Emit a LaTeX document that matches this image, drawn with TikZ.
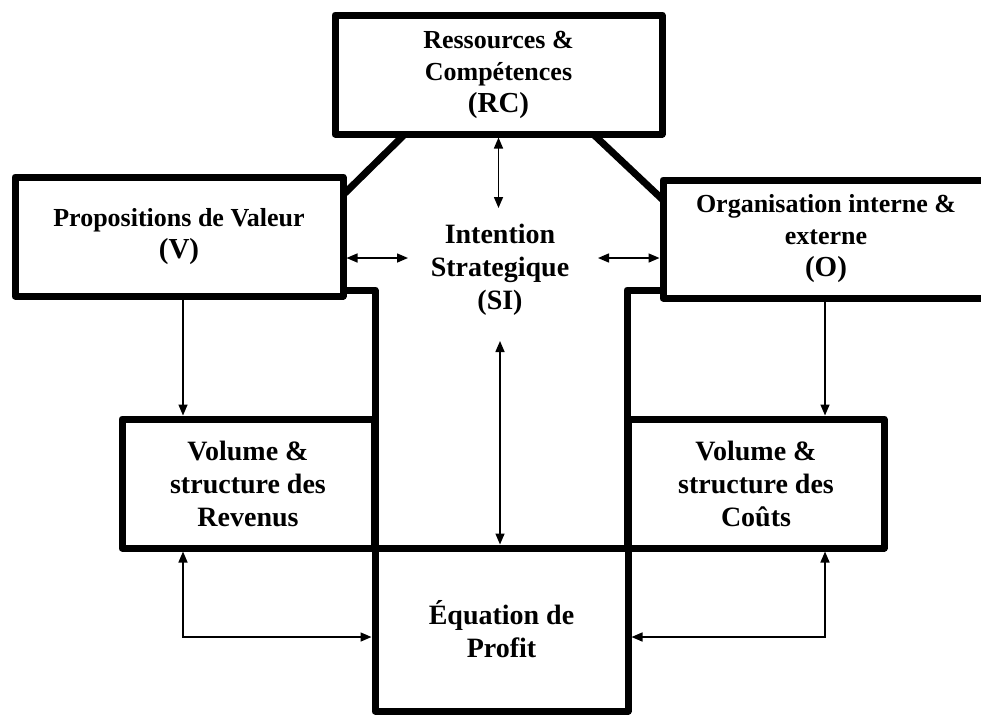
\documentclass[tikz,border=0pt]{standalone}
\usepackage{fontspec}
\setmainfont{Liberation Serif}
\usetikzlibrary{arrows.meta}
\tikzset{
  box/.style={draw, line width=7pt, line join=round, rectangle, inner sep=0pt, align=center,
    font=\bfseries\fontsize{26}{32}\selectfont},
  wall/.style={line width=7pt, line join=round},
  tip/.tip={Triangle[length=11pt,width=9pt]},
  arr/.style={line width=1.5pt, tip-tip},
  arrone/.style={line width=1.5pt, -tip},
  big/.style={font=\bfseries\fontsize{28}{33}\selectfont},
}
\newcommand{\paren}[1]{{\fontsize{29}{34}\selectfont #1}}
\begin{document}
\begin{tikzpicture}[x=1pt,y=-1pt]
\useasboundingbox (0,0) rectangle (981,718);
% boxes
\node[box, minimum width=327pt, minimum height=119pt] (RC) at (498.5,74.5)
  {Ressources \&\\Compétences\\\paren{(RC)}};
\node[box, minimum width=328pt, minimum height=119pt] (V) at (179,236.5)
  {Propositions de Valeur\\\paren{(V)}};
\node[box, minimum width=326pt, minimum height=118pt] (O) at (826,239)
  {Organisation interne \&\\externe\\\paren{(O)}};
\node[box, big, minimum width=252pt, minimum height=129pt] (Rev) at (248,483.5)
  {Volume \&\\structure des\\Revenus};
\node[box, big, minimum width=256pt, minimum height=129pt] (Cout) at (756,483.5)
  {Volume \&\\structure des\\Coûts};
\node[box, big, minimum width=253pt, minimum height=163pt] (Profit) at (501.5,629.5)
  {Équation de\\Profit};
\node[big, align=center, inner sep=0pt] (SI) at (500,270)
  {Intention\\Strategique\\(SI)};
% walls of the central column
\coordinate (dl1) at (405,134);
\coordinate (dl2) at (343,195);
\coordinate (dr1) at (593,134);
\coordinate (dr2) at (663,200);
\draw[wall] (dl1) -- (dl2);
\draw[wall] (dr1) -- (dr2);
\coordinate (stepL) at (343,290);
\coordinate (stepR) at (663,290);
\coordinate (colL) at (375,290);
\coordinate (colR) at (627,290);
\draw[wall] (stepL) -- (colL) -- (colL |- Profit.north west);
\draw[wall] (stepR) -- (colR) -- (colR |- Profit.north east);
% connectors
\coordinate (rcTip) at (498.5,208);
\draw[arr] (RC.south) -- (rcTip);
\coordinate (siL) at (408,258);
\coordinate (siR) at (598,258);
\draw[arr] (V.east |- siL) -- (siL);
\draw[arr] (siR) -- (O.west |- siR);
\coordinate (siTop) at (500,341);
\draw[arr] (siTop) -- (siTop |- Profit.north);
\coordinate (xL) at (183,0);
\coordinate (xR) at (825,0);
\draw[arrone] (V.south -| xL) -- (Rev.north -| xL);
\draw[arrone] (O.south -| xR) -- (Cout.north -| xR);
\coordinate (lowL) at (183,637);
\coordinate (lowR) at (825,637);
\draw[arr] (Rev.south -| lowL) -- (lowL) -- (Profit.west |- lowL);
\draw[arr] (Cout.south -| lowR) -- (lowR) -- (Profit.east |- lowR);
\end{tikzpicture}
\end{document}
